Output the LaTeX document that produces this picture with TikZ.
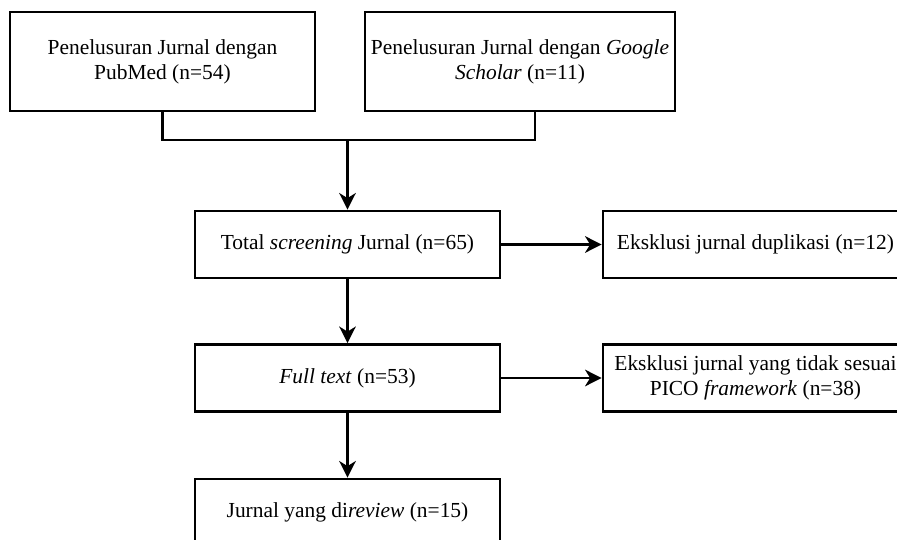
\documentclass[tikz,border=0pt]{standalone}
\usepackage{fontspec}
\setmainfont{Liberation Serif}
\usetikzlibrary{arrows.meta, positioning}

\begin{document}
\begin{tikzpicture}[
    x=0.02cm, y=-0.02cm,
    box/.style={draw, line width=1.6pt, minimum width=6.1cm, minimum height=1.34cm, inner sep=0pt, align=center, font=\fontsize{12.2}{14.2}\selectfont},
    link/.style={line width=1.6pt},
    arr/.style={line width=1.6pt, -{Stealth[length=3.3mm, width=3.3mm, inset=1mm]}}
]
    \useasboundingbox (0,0) rectangle (897,540);

    % search sources, top row
    \node[box, minimum height=1.98cm] (pubmed)  at (162.5, 61.5) {Penelusuran Jurnal dengan\\PubMed (n=54)};
    \node[box, minimum height=1.98cm, minimum width=6.2cm] (scholar) at (520, 61.5) {Penelusuran Jurnal dengan \textit{Google}\\\textit{Scholar} (n=11)};

    % main column, rows 134 apart
    \node[box] (screen) at (347.5, 244.5) {Total \textit{screening} Jurnal (n=65)};
    \node[box] (full)   at (347.5, 378)   {\textit{Full text} (n=53)};
    \node[box] (review) at (347.5, 512.5) {Jurnal yang di\textit{review} (n=15)};

    % exclusions on the right, cut by the page edge
    \node[box] (dup)  at (755.5, 244.5) {Eksklusi jurnal duplikasi (n=12)};
    \node[box] (pico) at (755.5, 378)   {Eksklusi jurnal yang tidak sesuai\\PICO \textit{framework} (n=38)};

    % merge the two searches
    \coordinate (join) at (347.5, 140);
    \draw[link] (pubmed.south) |- (join) -| ([xshift=3mm]scholar.south);
    \draw[arr] (join) -- (screen.north);

    % flow down and out
    \draw[arr] (screen.south) -- (full.north);
    \draw[arr] (full.south) -- (review.north);
    \draw[arr] (screen.east) -- (dup.west);
    \draw[arr] (full.east) -- (pico.west);
\end{tikzpicture}
\end{document}
